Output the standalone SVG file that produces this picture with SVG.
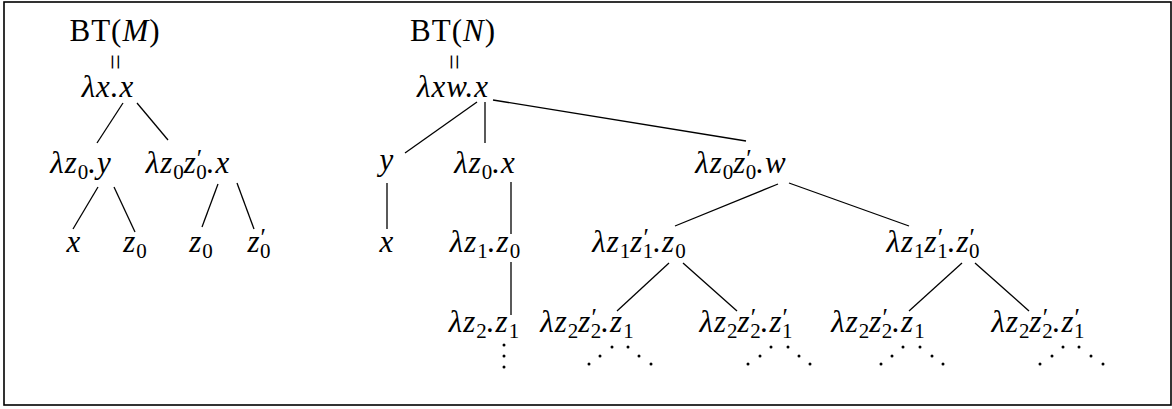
<svg xmlns="http://www.w3.org/2000/svg" width="1172" height="409" viewBox="0 0 1172 409">
<style>
.m{font-family:"Liberation Serif","DejaVu Serif",serif;font-style:italic;font-size:31px;letter-spacing:1px;fill:#000;text-anchor:middle}
.r{font-style:normal}
.s{font-style:normal;font-size:21px;letter-spacing:0}
.p{font-style:normal;font-size:25px;letter-spacing:0}
.e{font-family:"Liberation Serif","DejaVu Serif",serif;font-size:28px;fill:#000;text-anchor:middle}
#edges line{stroke:#000;stroke-width:1.3}
.dots circle{fill:#000}
</style>
<rect x="4" y="2" width="1167" height="403" fill="#fff" stroke="#000" stroke-width="1.6"/>

<g id="edges">
<line x1="123" y1="103" x2="97" y2="143"/>
<line x1="137" y1="103" x2="168" y2="140"/>
<line x1="98" y1="187" x2="73" y2="229"/>
<line x1="114" y1="187" x2="135" y2="232"/>
<line x1="218" y1="184" x2="202" y2="227"/>
<line x1="237" y1="183" x2="254" y2="229"/>
<line x1="477" y1="102" x2="405" y2="153"/>
<line x1="485" y1="102" x2="485" y2="143"/>
<line x1="493" y1="100" x2="746" y2="141"/>
<line x1="387" y1="183" x2="387" y2="229"/>
<line x1="511" y1="182" x2="511" y2="234"/>
<line x1="511" y1="262" x2="511" y2="315"/>
<line x1="778" y1="184" x2="675" y2="226"/>
<line x1="789" y1="183" x2="909" y2="226"/>
<line x1="669" y1="263" x2="617" y2="311"/>
<line x1="683" y1="263" x2="737" y2="311"/>
<line x1="962" y1="263" x2="909" y2="311"/>
<line x1="975" y1="263" x2="1029" y2="311"/>
</g>

<g id="bt-m"><text class="m" x="115" y="41"><tspan class="r">BT(</tspan>M<tspan class="r">)</tspan></text></g>
<g id="eq-m"><text class="e" transform="translate(115,62) rotate(90)" y="9">=</text></g>
<g id="m-root"><text class="m" x="108" y="97">λx.x</text></g>
<g id="m-l"><text class="m" x="81" y="173">λz<tspan class="s" dy="6">0</tspan><tspan dy="-6">.y</tspan></text></g>
<g id="m-r"><text class="m" x="188" y="173">λz<tspan class="s" dy="6">0</tspan><tspan dy="-6">z</tspan><tspan class="p" dy="-6">′</tspan><tspan class="s" dx="-6" dy="12">0</tspan><tspan dy="-6">.x</tspan></text></g>
<g id="m-ll"><text class="m" x="74" y="252">x</text></g>
<g id="m-lr"><text class="m" x="135" y="252">z<tspan class="s" dy="6">0</tspan></text></g>
<g id="m-rl"><text class="m" x="201" y="252">z<tspan class="s" dy="6">0</tspan></text></g>
<g id="m-rr"><text class="m" x="259" y="252">z<tspan class="p" dy="-6">′</tspan><tspan class="s" dx="-6" dy="12">0</tspan></text></g>

<g id="bt-n"><text class="m" x="453" y="41"><tspan class="r">BT(</tspan>N<tspan class="r">)</tspan></text></g>
<g id="eq-n"><text class="e" transform="translate(454,62) rotate(90)" y="9">=</text></g>
<g id="n-root"><text class="m" x="453" y="97">λxw.x</text></g>
<g id="n-y"><text class="m" x="387" y="170">y</text></g>
<g id="n-yx"><text class="m" x="387" y="252">x</text></g>
<g id="n-mid"><text class="m" x="485" y="173">λz<tspan class="s" dy="6">0</tspan><tspan dy="-6">.x</tspan></text></g>
<g id="n-mid2"><text class="m" x="485" y="252">λz<tspan class="s" dy="6">1</tspan><tspan dy="-6">.z</tspan><tspan class="s" dy="6">0</tspan></text></g>
<g id="n-mid3"><text class="m" x="484" y="332">λz<tspan class="s" dy="6">2</tspan><tspan dy="-6">.z</tspan><tspan class="s" dy="6">1</tspan></text></g>
<g id="n-right"><text class="m" x="741" y="173">λz<tspan class="s" dy="6">0</tspan><tspan dy="-6">z</tspan><tspan class="p" dy="-6">′</tspan><tspan class="s" dx="-6" dy="12">0</tspan><tspan dy="-6">.w</tspan></text></g>
<g id="n-rl"><text class="m" x="639" y="252">λz<tspan class="s" dy="6">1</tspan><tspan dy="-6">z</tspan><tspan class="p" dy="-6">′</tspan><tspan class="s" dx="-6" dy="12">1</tspan><tspan dy="-6">.z</tspan><tspan class="s" dy="6">0</tspan></text></g>
<g id="n-rr"><text class="m" x="933" y="252">λz<tspan class="s" dy="6">1</tspan><tspan dy="-6">z</tspan><tspan class="p" dy="-6">′</tspan><tspan class="s" dx="-6" dy="12">1</tspan><tspan dy="-6">.z</tspan><tspan class="p" dy="-6">′</tspan><tspan class="s" dx="-6" dy="12">0</tspan></text></g>
<g id="n-rll"><text class="m" x="587" y="332">λz<tspan class="s" dy="6">2</tspan><tspan dy="-6">z</tspan><tspan class="p" dy="-6">′</tspan><tspan class="s" dx="-6" dy="12">2</tspan><tspan dy="-6">.z</tspan><tspan class="s" dy="6">1</tspan></text></g>
<g id="n-rlr"><text class="m" x="746" y="332">λz<tspan class="s" dy="6">2</tspan><tspan dy="-6">z</tspan><tspan class="p" dy="-6">′</tspan><tspan class="s" dx="-6" dy="12">2</tspan><tspan dy="-6">.z</tspan><tspan class="p" dy="-6">′</tspan><tspan class="s" dx="-6" dy="12">1</tspan></text></g>
<g id="n-rrl"><text class="m" x="878" y="332">λz<tspan class="s" dy="6">2</tspan><tspan dy="-6">z</tspan><tspan class="p" dy="-6">′</tspan><tspan class="s" dx="-6" dy="12">2</tspan><tspan dy="-6">.z</tspan><tspan class="s" dy="6">1</tspan></text></g>
<g id="n-rrr"><text class="m" x="1038" y="332">λz<tspan class="s" dy="6">2</tspan><tspan dy="-6">z</tspan><tspan class="p" dy="-6">′</tspan><tspan class="s" dx="-6" dy="12">2</tspan><tspan dy="-6">.z</tspan><tspan class="p" dy="-6">′</tspan><tspan class="s" dx="-6" dy="12">1</tspan></text></g>

<g class="dots" id="dots">
<circle cx="504" cy="345" r="1.5"/><circle cx="504" cy="356" r="1.5"/><circle cx="504" cy="367" r="1.5"/>
<circle cx="589" cy="364" r="1.5"/><circle cx="600" cy="356" r="1.5"/><circle cx="612" cy="347" r="1.5"/>
<circle cx="628" cy="347" r="1.5"/><circle cx="639" cy="356" r="1.5"/><circle cx="651" cy="364" r="1.5"/>
<circle cx="748" cy="364" r="1.5"/><circle cx="760" cy="356" r="1.5"/><circle cx="771" cy="347" r="1.5"/>
<circle cx="788" cy="347" r="1.5"/><circle cx="799" cy="356" r="1.5"/><circle cx="810" cy="364" r="1.5"/>
<circle cx="881" cy="364" r="1.5"/><circle cx="892" cy="356" r="1.5"/><circle cx="903" cy="347" r="1.5"/>
<circle cx="920" cy="347" r="1.5"/><circle cx="932" cy="356" r="1.5"/><circle cx="943" cy="364" r="1.5"/>
<circle cx="1040" cy="364" r="1.5"/><circle cx="1052" cy="356" r="1.5"/><circle cx="1063" cy="347" r="1.5"/>
<circle cx="1079" cy="347" r="1.5"/><circle cx="1091" cy="356" r="1.5"/><circle cx="1103" cy="364" r="1.5"/>
</g>
</svg>
